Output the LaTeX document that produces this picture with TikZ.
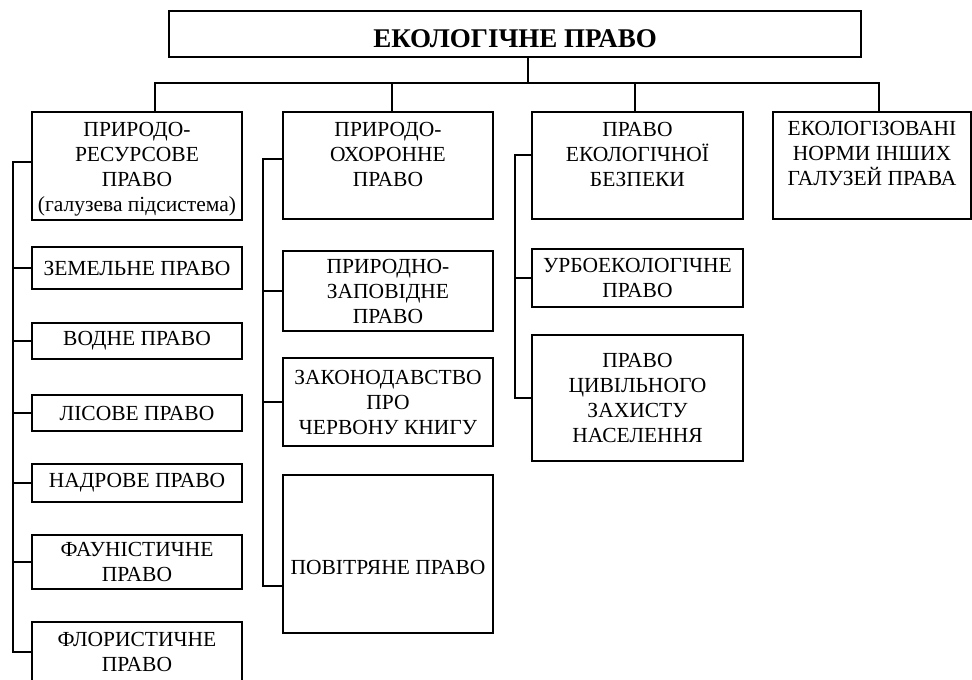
\documentclass[tikz,border=0pt]{standalone}
\usepackage{fontspec}
\setmainfont{Liberation Serif}
\usetikzlibrary{positioning,calc}

\begin{document}
\begin{tikzpicture}[x=1pt, y=-1pt,
    cell/.style={draw, line width=1.6pt, inner sep=0pt, align=center,
        font=\fontsize{21.5}{25}\selectfont},
    toptext/.style={anchor=north, inner sep=0pt, yshift=-11pt, align=center,
        font=\fontsize{21.5}{25}\selectfont},
    link/.style={draw, line width=1.6pt}]

        \useasboundingbox (0,0) rectangle (972,680);

        \coordinate (b1) at (155,83);
        \coordinate (b2) at (392,83);
        \coordinate (b3) at (635,83);
        \coordinate (b4) at (879,83);
        \coordinate (bus) at (528,83);
        \coordinate (sp1) at (13,162);
        \coordinate (sp2) at (263,159);
        \coordinate (sp3) at (515,155);

        % top box
        \node[cell, minimum width=692pt, minimum height=46pt,
            label={[anchor=center, yshift=-4.5pt, font=\bfseries\fontsize{27}{30}\selectfont]center:ЕКОЛОГІЧНЕ ПРАВО}] (eco) at (515,34) {};

        % headers
        \node[cell, minimum width=210pt, minimum height=108pt,
            label={[toptext]north:ПРИРОДО-\\РЕСУРСОВЕ\\ПРАВО\\(галузева підсистема)}] (prs) at (137,166) {};
        \node[cell, minimum width=210pt, minimum height=107pt,
            label={[toptext]north:ПРИРОДО-\\ОХОРОННЕ\\ПРАВО}] (pox) at (388,165.5) {};
        \node[cell, minimum width=211pt, minimum height=107pt,
            label={[toptext]north:ПРАВО\\ЕКОЛОГІЧНОЇ\\БЕЗПЕКИ}] (bez) at (637.5,165.5) {};
        \node[cell, minimum width=198pt, minimum height=107pt,
            label={[toptext, yshift=1pt]north:ЕКОЛОГІЗОВАНІ\\НОРМИ ІНШИХ\\ГАЛУЗЕЙ ПРАВА}] (ekn) at (872,165.5) {};

        % first column
        \node[cell, minimum width=210pt, minimum height=42pt] (zem) at (137,268) {ЗЕМЕЛЬНЕ ПРАВО};
        \node[cell, minimum width=210pt, minimum height=36pt] (vod) at (137,341) {ВОДНЕ ПРАВО};
        \node[cell, minimum width=210pt, minimum height=36pt] (lis) at (137,413) {ЛІСОВЕ ПРАВО};
        \node[cell, minimum width=210pt, minimum height=38pt] (nad) at (137,483) {НАДРОВЕ ПРАВО};
        \node[cell, minimum width=210pt, minimum height=54pt] (fau) at (137,562) {ФАУНІСТИЧНЕ\\ПРАВО};
        \node[cell, minimum width=210pt, minimum height=60pt] (flo) at (137,652) {ФЛОРИСТИЧНЕ\\ПРАВО};

        % second column
        \node[cell, minimum width=210pt, minimum height=80pt] (zap) at (388,291) {ПРИРОДНО-\\ЗАПОВІДНЕ\\ПРАВО};
        \node[cell, minimum width=210pt, minimum height=88pt] (kny) at (388,402) {ЗАКОНОДАВСТВО\\ПРО\\ЧЕРВОНУ КНИГУ};
        \node[cell, minimum width=210pt, minimum height=158pt,
            label={[anchor=center, yshift=-13pt, font=\fontsize{21.5}{25}\selectfont]center:ПОВІТРЯНЕ ПРАВО}] (pov) at (388,554) {};

        % third column
        \node[cell, minimum width=211pt, minimum height=58pt] (urb) at (637.5,278) {УРБОЕКОЛОГІЧНЕ\\ПРАВО};
        \node[cell, minimum width=211pt, minimum height=126pt] (civ) at (637.5,398) {ПРАВО\\ЦИВІЛЬНОГО\\ЗАХИСТУ\\НАСЕЛЕННЯ};

        \coordinate (povin) at ($(pov.west)+(0,32)$);

        % tree
        \path[link] (eco.south -| bus) -- (bus);
        \path[link] (b1 |- prs.north) -- (b1) -- (b4) -- (b4 |- ekn.north);
        \path[link] (b2) -- (b2 |- pox.north);
        \path[link] (b3) -- (b3 |- bez.north);

        \path[link] (prs.west |- sp1) -- (sp1) |- (flo.west);
        \foreach \n in {zem,vod,lis,nad,fau}
            \path[link] (\n.west) -- (\n.west -| sp1);

        \path[link] (pox.west |- sp2) -- (sp2) |- (povin);
        \foreach \n in {zap,kny}
            \path[link] (\n.west) -- (\n.west -| sp2);

        \path[link] (bez.west |- sp3) -- (sp3) |- (civ.west);
        \path[link] (urb.west) -- (urb.west -| sp3);

    \end{tikzpicture}
\end{document}
